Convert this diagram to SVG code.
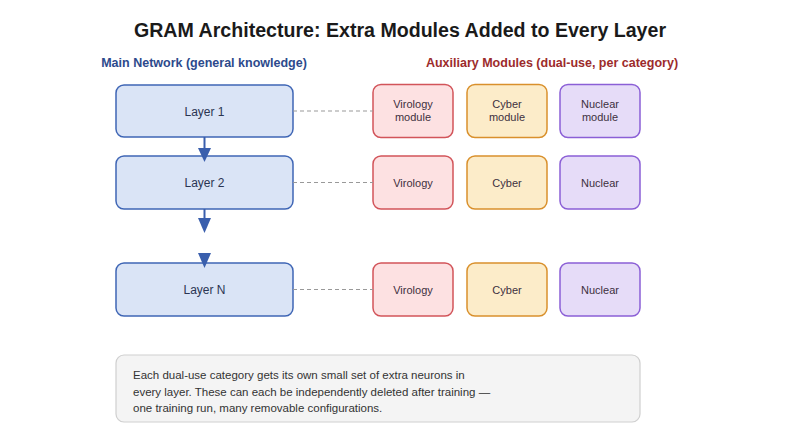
<svg xmlns="http://www.w3.org/2000/svg" width="800" height="445" viewBox="0 0 800 445">
<style>
text{font-family:"Liberation Sans",Arial,sans-serif}
.title{font-size:19.6px;font-weight:bold;fill:#1a1a1a;text-anchor:middle}
.sub{font-size:12.5px;font-weight:bold;text-anchor:middle}
.layer rect{fill:#dae4f6;stroke:#3f66b5;stroke-width:1.5}
.layer text{font-size:12px;fill:#2b3552;text-anchor:middle}
.vir rect{fill:#fde1e2;stroke:#d2545a;stroke-width:1.5}
.cyb rect{fill:#fcecc9;stroke:#d9902c;stroke-width:1.5}
.nuc rect{fill:#e6dcf8;stroke:#8b5fd6;stroke-width:1.5}
.mod text{font-size:11px;fill:#3d3040;text-anchor:middle}
.dash{stroke:#999;stroke-width:1.2;stroke-dasharray:4,3;fill:none}
.arr{stroke:#3a5fad;stroke-width:2;fill:none}
.head{fill:#3a5fad}
.note rect{fill:#f4f4f4;stroke:#cfcfcf;stroke-width:1.2}
.note text{font-size:11.5px;fill:#333}
</style>
<text class="title" x="400" y="37">GRAM Architecture: Extra Modules Added to Every Layer</text>
<text class="sub" x="204" y="67" fill="#2d4a8c">Main Network (general knowledge)</text>
<text class="sub" x="552" y="67" fill="#9c2b2b">Auxiliary Modules (dual-use, per category)</text>
<g id="layer1" class="layer"><rect x="116" y="85" width="177" height="52" rx="8"/><text x="204.5" y="115.5">Layer 1</text></g>
<g id="layer2" class="layer"><rect x="116" y="156" width="177" height="53" rx="8"/><text x="204.5" y="187">Layer 2</text></g>
<g id="layerN" class="layer"><rect x="116" y="263" width="177" height="53" rx="8"/><text x="204.5" y="294">Layer N</text></g>
<g id="vir1" class="mod vir"><rect x="373" y="84.5" width="80" height="53" rx="8"/><text x="413" y="107.5">Virology</text><text x="413" y="121">module</text></g>
<g id="cyb1" class="mod cyb"><rect x="467" y="84.5" width="80" height="53" rx="8"/><text x="507" y="107.5">Cyber</text><text x="507" y="121">module</text></g>
<g id="nuc1" class="mod nuc"><rect x="560" y="84.5" width="80" height="53" rx="8"/><text x="600" y="107.5">Nuclear</text><text x="600" y="121">module</text></g>
<g id="vir2" class="mod vir"><rect x="373" y="156" width="80" height="53" rx="8"/><text x="413" y="186.5">Virology</text></g>
<g id="cyb2" class="mod cyb"><rect x="467" y="156" width="80" height="53" rx="8"/><text x="507" y="186.5">Cyber</text></g>
<g id="nuc2" class="mod nuc"><rect x="560" y="156" width="80" height="53" rx="8"/><text x="600" y="186.5">Nuclear</text></g>
<g id="vir3" class="mod vir"><rect x="373" y="263" width="80" height="53" rx="8"/><text x="413" y="293.5">Virology</text></g>
<g id="cyb3" class="mod cyb"><rect x="467" y="263" width="80" height="53" rx="8"/><text x="507" y="293.5">Cyber</text></g>
<g id="nuc3" class="mod nuc"><rect x="560" y="263" width="80" height="53" rx="8"/><text x="600" y="293.5">Nuclear</text></g>
<g id="connectors">
<line class="arr" x1="204.5" y1="137" x2="204.5" y2="149"/>
<polygon class="head" points="198,148 211,148 204.5,162"/>
<line class="arr" x1="204.5" y1="209" x2="204.5" y2="219"/>
<polygon class="head" points="198,218 211,218 204.5,233"/>
<polygon class="head" points="198,253 211,253 204.5,268"/>
<line class="dash" x1="293" y1="111" x2="373" y2="111"/>
<line class="dash" x1="293" y1="182.5" x2="373" y2="182.5"/>
<line class="dash" x1="293" y1="289.5" x2="373" y2="289.5"/>
</g>
<g id="note" class="note"><rect x="116" y="355" width="524" height="67" rx="8"/>
<text x="133" y="379">Each dual-use category gets its own small set of extra neurons in</text>
<text x="133" y="395.5">every layer. These can each be independently deleted after training —</text>
<text x="133" y="411.5">one training run, many removable configurations.</text></g>
</svg>
